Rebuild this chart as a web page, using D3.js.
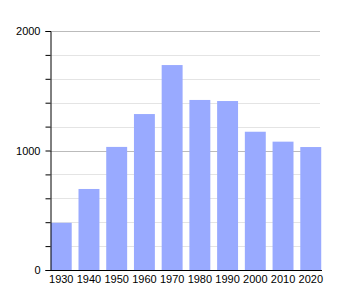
<!DOCTYPE html>
<html><head><meta charset="utf-8">
<script src="https://cdn.jsdelivr.net/npm/d3@7"></script>
<style>body{margin:0;background:#fff}svg{display:block}text{font-family:"Liberation Sans",Arial,sans-serif;font-size:11px;fill:#000}</style>
</head><body><svg id="c" width="350" height="300"></svg>
<script>
const years = ["1930","1940","1950","1960","1970","1980","1990","2000","2010","2020"];
const population = [395, 678, 1030, 1305, 1715, 1423, 1414, 1157, 1074, 1029];
const majorTicks = [0, 1000, 2000];
const minorTicks = [200,400,600,800,1200,1400,1600,1800];

const svg = d3.select("#c");
const x = d3.scaleBand().domain(years).range([50.5, 321.5]).paddingInner(0.245).paddingOuter(0.01);
const y = d3.scaleLinear().domain([0, 2000]).range([270, 31]);

svg.append("g").selectAll("line").data(minorTicks).join("line")
  .attr("x1", 50).attr("x2", 320).attr("y1", d => Math.round(y(d))+0.5).attr("y2", d => Math.round(y(d))+0.5)
  .attr("stroke", "#e4e4e4").attr("stroke-width", 1);
svg.append("g").selectAll("line").data(majorTicks.filter(d=>d>0)).join("line")
  .attr("x1", 50).attr("x2", 320).attr("y1", d => Math.round(y(d))+0.5).attr("y2", d => Math.round(y(d))+0.5)
  .attr("stroke", "#bbbbbb").attr("stroke-width", 1);

svg.append("g").selectAll("rect").data(population).join("rect")
  .attr("x", (d,i) => x(years[i])).attr("width", x.bandwidth())
  .attr("y", d => y(d)).attr("height", d => y(0) - y(d))
  .attr("fill", "#99aaff");

const yAxis = d3.axisLeft(y).tickValues(majorTicks).tickSize(5).tickPadding(5).tickFormat(d3.format("d"));
const gy = svg.append("g").attr("transform", "translate(50.5,0)").call(yAxis);
gy.select(".domain").attr("stroke", "#000");
gy.selectAll(".tick line").attr("stroke", "#000");
gy.selectAll("text").style("font-size","11px").attr("fill","#000");
const yMinor = d3.axisLeft(y).tickValues(minorTicks).tickSize(5).tickFormat("");
const gym = svg.append("g").attr("transform", "translate(50.5,0)").call(yMinor);
gym.select(".domain").remove();
gym.selectAll(".tick line").attr("stroke", "#000");

const xAxis = d3.axisBottom(x).tickSize(0).tickPadding(5);
const gx = svg.append("g").attr("transform", "translate(0,270.5)").call(xAxis);
gx.select(".domain").attr("stroke", "#000").attr("d", "M50,0H322");
gx.selectAll("text").style("font-size","11px").attr("fill","#000");
</script></body></html>
